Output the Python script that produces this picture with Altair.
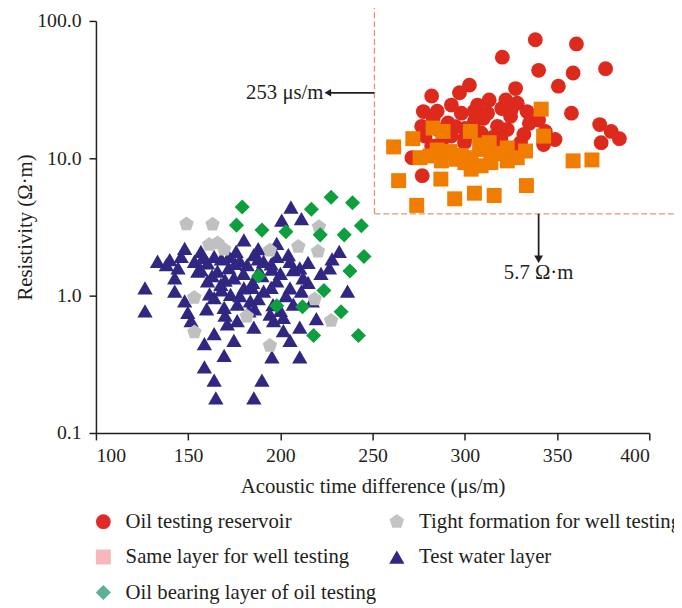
import altair as alt
import pandas as pd

# ---------------- data ----------------
# legend order (filled column by column)
categories = ["Oil testing reservoir", "Same layer for well testing",
              "Oil bearing layer of oil testing", "Tight formation for well testing",
              "Test water layer"]

# Oil testing reservoir (red circles)
oil_x = [338.2, 360.5, 320.3, 340.0, 358.7, 376.3, 350.7, 327.5, 302.5, 297.1,
         282.0, 292.7, 313.2, 306.9, 322.2, 328.4, 333.7, 357.8, 277.5, 282.8,
         298.1, 312.3, 324.8, 373.1, 379.3, 383.8, 373.9, 343.6, 348.9, 342.7,
         332.0, 330.2, 276.6, 278.4, 290.9, 292.7, 305.2, 308.8, 317.7, 323.0,
         319.5, 271.3, 276.9, 287.3, 299.8, 314.1, 326.6, 282.0, 300.0, 315.0,
         295.0, 286.0, 310.0, 320.0, 285.0, 305.0, 325.0, 290.0, 310.0, 335.0,
         340.0, 300.0]
oil_y = [73.0, 68.0, 54.5, 43.7, 41.8, 44.9, 33.5, 32.2, 34.1, 30.0,
         28.4, 24.4, 26.6, 24.4, 26.6, 25.2, 21.9, 21.3, 21.9, 19.6,
         21.3, 21.3, 20.2, 17.6, 15.7, 13.9, 13.0, 15.7, 13.7, 12.6,
         14.9, 13.0, 17.1, 14.5, 18.1, 14.5, 18.6, 15.3, 17.1, 16.2,
         13.7, 10.1, 7.47, 13.0, 13.0, 11.6, 11.6, 12.3, 16.5, 14.2,
         17.0, 16.0, 19.5, 23.0, 22.0, 22.0, 22.5, 16.0, 13.5, 18.0,
         19.0, 14.0]

# Same layer for well testing (orange squares)
same_x = [341.4, 261.4, 271.8, 282.8, 288.2, 303.0, 342.7, 313.2, 323.0, 332.9,
          275.7, 281.1, 287.3, 295.4, 303.4, 303.4, 308.8, 314.1, 323.0, 328.4,
          358.7, 368.9, 264.1, 287.0, 273.9, 294.5, 305.2, 315.9, 333.4, 310.5,
          292.0, 298.0, 318.0, 308.0, 300.0, 285.0]
same_y = [22.8, 12.1, 13.9, 16.6, 15.7, 15.7, 14.5, 13.0, 11.9, 11.3,
          10.1, 10.4, 9.58, 9.84, 10.1, 8.33, 8.82, 9.31, 9.58, 10.1,
          9.58, 9.73, 6.88, 7.06, 4.54, 5.07, 5.57, 5.36, 6.33, 11.6,
          11.2, 10.5, 10.8, 12.5, 9.3, 11.5]

# Test water layer (navy triangles)
water_x = [205.7, 200.7, 211.4, 133.4, 140.0, 146.2, 153.4, 160.5, 164.1, 172.2,
           180.2, 185.6, 190.9, 198.0, 204.3, 210.5, 226.6, 231.9, 236.4, 126.6,
           126.6, 142.7, 142.7, 148.1, 149.8, 151.6, 160.5, 167.7, 174.8, 180.2,
           173.0, 164.1, 169.5, 176.6, 183.7, 190.9, 198.0, 205.2, 211.4, 207.0,
           194.4, 201.6, 185.6, 176.6, 171.2, 164.1, 158.8, 169.5, 174.8, 196.3,
           201.6, 210.5, 205.2, 210.5, 195.4, 158.8, 164.1, 165.0, 185.6, 190.0,
           205.2, 182.0, 155.2, 156.9, 148.1, 138.2, 212.3, 182.9, 144.5, 156.9,
           165.9, 175.5, 188.4, 195.4, 161.6, 184.6, 219.5, 217.3,
           158.0, 168.0, 178.0, 188.0, 195.0, 172.0, 180.0, 190.0, 200.0, 207.0,
           163.0, 170.0, 185.0, 195.0, 203.0, 188.0, 178.0, 168.0, 160.0, 170.0,
           186.0, 196.0, 200.0, 215.0, 222.0, 215.0, 228.0, 198.0, 188.0, 176.0]
water_y = [4.42, 3.55, 3.64, 1.78, 1.83, 1.93, 1.78, 1.73, 1.93, 1.93,
           2.55, 1.99, 1.78, 1.93, 1.99, 1.59, 1.59, 2.10, 1.08, 1.14,
           0.776, 1.35, 1.08, 0.916, 0.754, 0.658, 1.28, 1.21, 1.35, 1.14,
           1.02, 0.967, 0.820, 0.867, 0.916, 1.08, 1.28, 1.14, 1.08, 0.867,
           0.735, 0.695, 0.589, 0.658, 0.623, 0.528, 0.447, 0.368, 0.472, 0.658,
           0.557, 0.589, 0.472, 0.358, 0.358, 0.303, 0.243, 0.180, 0.180, 0.243,
           1.78, 1.68, 1.51, 2.10, 2.21, 1.68, 1.35, 0.776, 1.59, 1.55,
           1.51, 1.72, 1.51, 1.56, 1.03, 1.15, 0.68, 0.916,
           1.90, 1.85, 1.80, 1.85, 1.70, 1.60, 1.45, 1.40, 1.45, 1.55,
           1.40, 1.30, 1.25, 1.15, 1.00, 0.95, 1.00, 1.10, 0.80, 0.72,
           0.80, 0.86, 0.78, 1.25, 1.45, 1.75, 1.85, 2.40, 2.20, 2.10]

# Tight formation for well testing (grey pentagons)
tight_x = [149.1, 163.2, 161.4, 165.9, 169.5, 194.3, 209.7, 220.9, 220.4, 153.3,
           153.4, 181.8, 194.3, 218.6, 227.5]
tight_y = [3.32, 3.30, 2.35, 2.41, 2.17, 2.14, 2.28, 3.17, 2.10, 0.967,
           0.542, 0.708, 0.432, 0.942, 0.658]

# Oil bearing layer of oil testing (green diamonds)
bear_x = [179.3, 176.2, 190.0, 203.0, 216.8, 227.5, 239.1, 221.6, 234.6, 243.9,
          245.3, 237.7, 223.6, 212.0, 232.9, 218.0, 242.3, 188.2, 198.0]
bear_y = [4.42, 3.26, 3.00, 2.92, 4.25, 5.21, 4.75, 2.77, 2.77, 3.23,
          1.93, 1.51, 1.09, 0.829, 0.763, 0.513, 0.513, 1.39, 0.843]

x_ticks = [100, 150, 200, 250, 300, 350, 400]
y_ticks = [0.1, 1.0, 10.0, 100.0]

# cut-off annotations
cut_ac = 251.0     # drawn position of the 253 us/m line
cut_rt = 3.94      # drawn position of the 5.7 ohm.m line
ann_texts = ["253 \u03bcs/m", "5.7 \u03a9\u00b7m"]

# ---------------- styling ----------------
FONT = "Liberation Serif"
INK = "#231f20"
# in the order of `categories`
point_colors = ["#dd2a1d", "#f07c00", "#0d9e3e", "#c0c0c0", "#302783"]
legend_colors = ["#e02a2a", "#f6b8ba", "#5bb393", "#c4c4c4", "#302783"]
pentagon = "M0,-1L0.951,-0.309L0.588,0.809L-0.588,0.809L-0.951,-0.309Z"
shapes = ["circle", "square", "diamond", pentagon, "triangle-up"]
sizes = [225, 240, 340, 260, 300]

frames = []
for name, xs, ys in [(categories[0], oil_x, oil_y),
                     (categories[1], same_x, same_y),
                     (categories[4], water_x, water_y),
                     (categories[3], tight_x, tight_y),
                     (categories[2], bear_x, bear_y)]:
    frames.append(pd.DataFrame({"x": xs, "y": ys, "type": name}))
pts = pd.concat(frames, ignore_index=True)

xs_ = alt.Scale(domain=[100, 400], nice=False)
ys_ = alt.Scale(type="log", domain=[0.1, 100], nice=False)
shape_scale = alt.Scale(domain=categories, range=shapes)

x_axis = alt.Axis(values=x_ticks, title="Acoustic time difference (\u03bcs/m)",
                  grid=False, tickSize=7, labelPadding=6, titlePadding=10)
y_axis = alt.Axis(values=y_ticks, format=".1f", title="Resistivity (\u03a9\u00b7m)",
                  grid=False, tickSize=7, labelPadding=8, titlePadding=1)

# legend-only layer (first, so its legend wins): one entry per category, off the canvas
leg = alt.Legend(title=None, orient="none", legendX=-3, legendY=496,
                 columns=2, symbolSize=130, labelOffset=12,
                 rowPadding=14, columnPadding=10, labelLimit=500,
                 padding=0, symbolStrokeWidth=0, symbolOpacity=1)
legend_df = pd.DataFrame({"type": categories, "x": [0] * 5, "y": [1.0] * 5})
legend_layer = alt.Chart(legend_df).mark_point(filled=True, opacity=1, strokeWidth=0,
                                               size=130).encode(
    x=alt.X("x:Q", scale=xs_, axis=x_axis), y=alt.Y("y:Q", scale=ys_, axis=y_axis),
    color=alt.Color("type:N", scale=alt.Scale(domain=categories, range=legend_colors),
                    legend=leg),
    shape=alt.Shape("type:N", scale=shape_scale, legend=leg),
)

points = alt.Chart(pts).mark_point(filled=True, opacity=1, strokeWidth=0).encode(
    x=alt.X("x:Q", scale=xs_, axis=x_axis),
    y=alt.Y("y:Q", scale=ys_, axis=y_axis),
    fill=alt.Fill("type:N", scale=alt.Scale(domain=categories, range=point_colors),
                  legend=None),
    shape=alt.Shape("type:N", scale=shape_scale, legend=None),
    size=alt.Size("type:N", scale=alt.Scale(domain=categories, range=sizes), legend=None),
)

box = pd.DataFrame({"x": [cut_ac, cut_ac], "x2": [cut_ac, 430],
                    "y": [cut_rt, cut_rt], "y2": [300, cut_rt]})
box_rules = alt.Chart(box).mark_rule(color="#e0967f", strokeWidth=1.4,
                                     strokeDash=[6, 3]).encode(
    x=alt.X("x:Q", scale=xs_), x2="x2:Q",
    y=alt.Y("y:Q", scale=ys_), y2="y2:Q")

stems = pd.DataFrame({"x": [225.0, 340.0], "x2": [cut_ac, 340.0],
                      "y": [30.0, cut_rt], "y2": [30.0, 1.84]})
stem_rules = alt.Chart(stems).mark_rule(color=INK, strokeWidth=1.8).encode(
    x=alt.X("x:Q", scale=xs_), x2="x2:Q",
    y=alt.Y("y:Q", scale=ys_), y2="y2:Q")

heads = pd.DataFrame({"x": [225.7, 340.0], "y": [30.0, 1.84],
                      "s": ["triangle-left", "triangle-down"], "z": [60, 80]})
head_pts = alt.Chart(heads).mark_point(filled=True, opacity=1, color=INK, strokeWidth=0).encode(
    x=alt.X("x:Q", scale=xs_), y=alt.Y("y:Q", scale=ys_),
    shape=alt.Shape("s:N", scale=None), size=alt.Size("z:Q", scale=None))

t1 = alt.Chart(pd.DataFrame({"x": [223.9], "y": [30.0], "t": [ann_texts[0]]})).mark_text(
    font=FONT, fontSize=21, color=INK, align="right", baseline="middle", dx=-1).encode(
    x=alt.X("x:Q", scale=xs_), y=alt.Y("y:Q", scale=ys_), text="t:N")
t2 = alt.Chart(pd.DataFrame({"x": [340.0], "y": [1.46], "t": [ann_texts[1]]})).mark_text(
    font=FONT, fontSize=21, color=INK, align="center", baseline="middle").encode(
    x=alt.X("x:Q", scale=xs_), y=alt.Y("y:Q", scale=ys_), text="t:N")

chart = alt.layer(legend_layer, points, box_rules, stem_rules, head_pts, t1, t2).properties(
    width=560, height=417,
    autosize=alt.AutoSizeParams(type="none"),
    padding={"left": 89, "top": 9.5, "right": 25, "bottom": 173.5},
).configure_view(stroke=None).configure_axis(
    labelFont=FONT, titleFont=FONT, labelFontSize=20, titleFontSize=21,
    titleFontWeight="normal", labelColor=INK, titleColor=INK,
    domainColor=INK, tickColor=INK, domainWidth=1.5, tickWidth=1.5,
).configure_legend(
    labelFont=FONT, labelFontSize=21, labelColor=INK,
)

chart.save("out.html", embed_options={"renderer": "svg", "actions": False})
